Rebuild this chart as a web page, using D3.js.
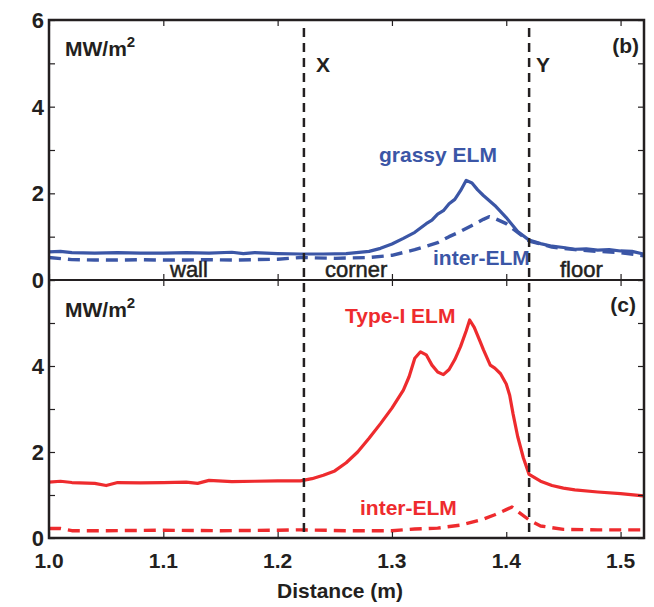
<!DOCTYPE html>
<html>
<head>
<meta charset="utf-8">
<script src="https://cdn.jsdelivr.net/npm/d3@7"></script>
<style>
  body { margin: 0; background: #fff; }
  text { font-family: "Liberation Sans", Arial, sans-serif; }
</style>
</head>
<body>
<div id="graph"></div>
<script>
var width = 654;
var height = 607;

// panel (b): grassy ELM and inter-ELM heat flux, MW/m2
var grassyElm = [[1.00,0.65],[1.01,0.66],[1.02,0.63],[1.04,0.62],[1.06,0.63],[1.08,0.62],[1.10,0.62],[1.12,0.63],[1.14,0.62],[1.16,0.64],[1.17,0.61],[1.18,0.63],[1.20,0.61],[1.22,0.60],[1.24,0.60],[1.26,0.61],[1.28,0.66],[1.29,0.73],[1.30,0.83],[1.31,0.96],[1.32,1.10],[1.33,1.30],[1.335,1.38],[1.34,1.52],[1.345,1.60],[1.35,1.76],[1.355,1.86],[1.36,2.06],[1.365,2.30],[1.37,2.24],[1.375,2.08],[1.38,1.95],[1.39,1.72],[1.40,1.44],[1.41,1.12],[1.42,0.92],[1.43,0.84],[1.44,0.78],[1.45,0.75],[1.46,0.71],[1.47,0.72],[1.48,0.69],[1.49,0.70],[1.50,0.67],[1.51,0.66],[1.52,0.60]];
var interElmB = [[1.00,0.52],[1.02,0.47],[1.04,0.46],[1.06,0.46],[1.08,0.47],[1.10,0.46],[1.12,0.46],[1.14,0.47],[1.16,0.46],[1.18,0.47],[1.20,0.48],[1.22,0.52],[1.25,0.50],[1.28,0.52],[1.30,0.57],[1.32,0.70],[1.34,0.86],[1.35,1.00],[1.36,1.12],[1.37,1.26],[1.38,1.40],[1.385,1.46],[1.39,1.42],[1.40,1.30],[1.41,1.10],[1.42,0.90],[1.44,0.76],[1.46,0.70],[1.48,0.66],[1.50,0.63],[1.52,0.56]];

// panel (c): Type-I ELM and inter-ELM heat flux, MW/m2
var typeIElm = [[1.00,1.30],[1.01,1.32],[1.02,1.29],[1.04,1.27],[1.05,1.22],[1.06,1.29],[1.08,1.28],[1.10,1.29],[1.12,1.30],[1.13,1.27],[1.14,1.34],[1.16,1.31],[1.18,1.32],[1.20,1.33],[1.22,1.33],[1.23,1.38],[1.24,1.46],[1.25,1.56],[1.26,1.75],[1.27,2.00],[1.28,2.32],[1.29,2.66],[1.30,3.02],[1.31,3.44],[1.315,3.75],[1.32,4.18],[1.325,4.33],[1.33,4.26],[1.335,4.02],[1.34,3.86],[1.345,3.80],[1.35,3.92],[1.355,4.15],[1.36,4.45],[1.365,4.82],[1.368,5.07],[1.372,4.90],[1.377,4.58],[1.38,4.38],[1.386,4.02],[1.39,3.95],[1.395,3.82],[1.40,3.58],[1.403,3.32],[1.406,2.88],[1.41,2.36],[1.415,1.86],[1.42,1.48],[1.43,1.32],[1.44,1.22],[1.45,1.16],[1.46,1.12],[1.48,1.07],[1.50,1.03],[1.52,0.98]];
var interElmC = [[1.00,0.22],[1.01,0.22],[1.02,0.17],[1.05,0.17],[1.10,0.18],[1.15,0.17],[1.20,0.18],[1.22,0.19],[1.26,0.17],[1.30,0.17],[1.32,0.21],[1.34,0.23],[1.36,0.30],[1.38,0.44],[1.39,0.54],[1.40,0.66],[1.405,0.72],[1.41,0.62],[1.42,0.42],[1.43,0.28],[1.45,0.20],[1.48,0.19],[1.52,0.19]];

var xTicks = [1.0, 1.1, 1.2, 1.3, 1.4, 1.5];
var yTicksB = [0, 2, 4, 6];
var yTicksC = [0, 2, 4];
var regionLines = [1.223, 1.42];
var regionNames = ["wall", "corner", "floor"];

var padL = 49, padR = 644, padT = 20, padM = 280, padB = 538;
var blue = "#3b56a6", red = "#ee2b2e", ink = "#231f20";

var svg = d3.select("#graph").append("svg")
    .attr("width", width)
    .attr("height", height);

var x = d3.scaleLinear().domain([1.0, 1.5205]).range([padL, padR]);
var yB = d3.scaleLinear().domain([0, 6]).range([padM, padT]);
var yC = d3.scaleLinear().domain([0, 6]).range([padB, padM]);

function drawLine(data, y, color, dashed) {
  var line = d3.line()
      .x(function(d) { return x(d[0]); })
      .y(function(d) { return y(d[1]); });
  svg.append("path")
      .datum(data)
      .attr("d", line)
      .attr("fill", "none")
      .attr("stroke", color)
      .attr("stroke-width", dashed ? 3.4 : 3.2)
      .attr("stroke-linejoin", "round")
      .attr("stroke-dasharray", dashed ? "12,7" : null);
}

drawLine(grassyElm, yB, blue, false);
drawLine(interElmB, yB, blue, true);
drawLine(typeIElm, yC, red, false);
drawLine(interElmC, yC, red, true);

// X / Y boundary markers
svg.selectAll(".region")
    .data(regionLines)
    .enter().append("line")
    .attr("x1", function(d) { return x(d); })
    .attr("x2", function(d) { return x(d); })
    .attr("y1", padT + 8)
    .attr("y2", padB)
    .attr("stroke", ink)
    .attr("stroke-width", 2.5)
    .attr("stroke-dasharray", "9,6");

// axes, ticks pointing inward
function inAxis(axis, y, ticks, size) {
  var g = svg.append("g")
      .attr("transform", "translate(0," + y + ")")
      .call(axis(x).tickValues(ticks).tickSize(size).tickFormat(""));
  g.select(".domain").remove();
  g.selectAll("line").attr("stroke", ink).attr("stroke-width", 1.2);
}
inAxis(d3.axisBottom, padT, xTicks, 6);
inAxis(d3.axisTop, padM, xTicks, 6);
inAxis(d3.axisBottom, padM, xTicks, 6);
inAxis(d3.axisTop, padB, xTicks, 6);

function yAxis(scale, labels) {
  var gl = svg.append("g")
      .attr("transform", "translate(" + padL + ",0)")
      .call(d3.axisRight(scale).ticks(6).tickSize(6).tickFormat(""));
  gl.select(".domain").remove();
  gl.selectAll("line").attr("stroke", ink).attr("stroke-width", 1.2);
  var gr = svg.append("g")
      .attr("transform", "translate(" + padR + ",0)")
      .call(d3.axisLeft(scale).ticks(6).tickSize(6).tickFormat(""));
  gr.select(".domain").remove();
  gr.selectAll("line").attr("stroke", ink).attr("stroke-width", 1.2);
  svg.selectAll(null)
      .data(labels)
      .enter().append("text")
      .attr("x", padL - 5)
      .attr("y", function(d) { return scale(d) + 8; })
      .attr("text-anchor", "end")
      .attr("font-size", 22)
      .attr("font-weight", "bold")
      .attr("fill", ink)
      .text(function(d) { return d; });
}
yAxis(yB, yTicksB);
yAxis(yC, yTicksC);

// frame
svg.append("rect")
    .attr("x", padL).attr("y", padT)
    .attr("width", padR - padL).attr("height", padB - padT)
    .attr("fill", "none").attr("stroke", ink).attr("stroke-width", 2.5);
svg.append("line")
    .attr("x1", padL).attr("x2", padR).attr("y1", padM).attr("y2", padM)
    .attr("stroke", ink).attr("stroke-width", 2);

svg.selectAll(null)
    .data(xTicks)
    .enter().append("text")
    .attr("x", function(d) { return x(d); })
    .attr("y", padB + 30)
    .attr("text-anchor", "middle")
    .attr("font-size", 21)
    .attr("font-weight", "bold")
    .attr("fill", ink)
    .text(function(d) { return d3.format(".1f")(d); });

svg.append("text")
    .attr("x", 340).attr("y", 598)
    .attr("text-anchor", "middle")
    .attr("font-size", 21).attr("font-weight", "bold").attr("fill", ink)
    .text("Distance (m)");

function label(txt, px, py, color, bold, anchor, size) {
  return svg.append("text")
      .attr("x", px).attr("y", py)
      .attr("text-anchor", anchor || "start")
      .attr("font-size", size || 21)
      .attr("font-weight", bold ? "bold" : "normal")
      .attr("fill", color)
      .text(txt);
}

[56, 317].forEach(function(py) {
  var t = label("MW/m", 65, py, ink, true);
  t.append("tspan").attr("dy", -9).attr("font-size", 15).text("2");
});
label("(b)", 639, 53, ink, true, "end");
label("(c)", 636, 312, ink, true, "end");
label("X", 316, 72, ink, true);
label("Y", 536, 72, ink, true);

var regionX = [170, 325, 560];
regionNames.forEach(function(n, i) {
  label(n, regionX[i], 277, ink, false, "start", 22)
      .attr("stroke", ink).attr("stroke-width", 0.5);
});

label("grassy ELM", 379, 162, blue, true);
label("inter-ELM", 433, 265, blue, true);
label("Type-I ELM", 345, 323, red, true);
label("inter-ELM", 360, 515, red, true);
</script>
</body>
</html>
